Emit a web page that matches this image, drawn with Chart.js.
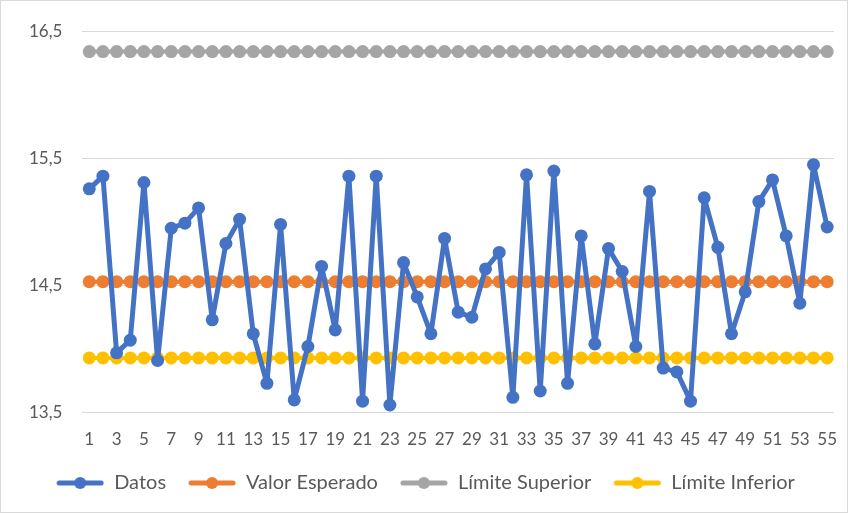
<!DOCTYPE html>
<html>
<head>
<meta charset="utf-8">
<script src="https://cdn.jsdelivr.net/npm/chart.js@4"></script>
<style>
  html, body { margin: 0; padding: 0; background: #fff; }
  #wrap { width: 846px; height: 511px; border: 1px solid #d9d9d9; }
</style>
</head>
<body>
<div id="wrap"><canvas id="chart"></canvas></div>
<script>
const categories = Array.from({ length: 55 }, (_, i) => String(i + 1));

const datos = [
  15.26, 15.36, 13.97, 14.07, 15.31, 13.91, 14.95, 14.99, 15.11, 14.23,
  14.83, 15.02, 14.12, 13.73, 14.98, 13.60, 14.02, 14.65, 14.15, 15.36,
  13.59, 15.36, 13.56, 14.68, 14.41, 14.12, 14.87, 14.29, 14.25, 14.63,
  14.76, 13.62, 15.37, 13.67, 15.40, 13.73, 14.89, 14.04, 14.79, 14.61,
  14.02, 15.24, 13.85, 13.82, 13.59, 15.19, 14.80, 14.12, 14.45, 15.16,
  15.33, 14.89, 14.36, 15.45, 14.96,
];
const valorEsperado = categories.map(() => 14.53);
const limiteSuperior = categories.map(() => 16.34);
const limiteInferior = categories.map(() => 13.93);

const yTicks = [13.5, 14.5, 15.5, 16.5];

const textColor = "#595959";
const fontFamily = "Lato, 'Open Sans', sans-serif";

// line + dot icon for legend, pushed to the right of its box
function legendIcon(color) {
  const c = document.createElement("canvas");
  c.width = 56;
  c.height = 14;
  const ctx = c.getContext("2d");
  ctx.strokeStyle = color;
  ctx.lineWidth = 5;
  ctx.lineCap = "round";
  ctx.beginPath();
  ctx.moveTo(11, 7);
  ctx.lineTo(53, 7);
  ctx.stroke();
  ctx.fillStyle = color;
  ctx.beginPath();
  ctx.arc(32, 7, 6, 0, Math.PI * 2);
  ctx.fill();
  return c;
}

function series(label, data, color, lineWidth) {
  return {
    label: label,
    data: data,
    borderColor: color,
    backgroundColor: color,
    borderWidth: lineWidth,
    borderJoinStyle: "round",
    borderCapStyle: "round",
    pointRadius: 6.5,
    pointHoverRadius: 6.5,
    pointBorderWidth: 0,
    pointBackgroundColor: color,
    pointStyle: "circle",
    tension: 0,
  };
}

const colors = ["#4472c4", "#ed7d31", "#a5a5a5", "#ffc000"];

new Chart(document.getElementById("chart"), {
  type: "line",
  data: {
    labels: categories,
    datasets: [
      series("Datos", datos, colors[0], 5),
      series("Valor Esperado", valorEsperado, colors[1], 4),
      series("Límite Superior", limiteSuperior, colors[2], 4),
      series("Límite Inferior", limiteInferior, colors[3], 4),
    ],
  },
  options: {
    responsive: true,
    maintainAspectRatio: false,
    animation: false,
    layout: { padding: { left: 8, right: 13, top: 26, bottom: 9 } },
    scales: {
      x: {
        offset: true,
        grid: { display: false },
        border: { display: false },
        ticks: {
          autoSkip: false,
          maxRotation: 0,
          color: textColor,
          font: { family: fontFamily, size: 17 },
          padding: 9,
          callback: (v, i) => (i % 2 === 0 ? categories[i] : ""),
        },
      },
      y: {
        min: yTicks[0],
        max: yTicks[yTicks.length - 1],
        afterBuildTicks: (axis) => {
          axis.ticks = yTicks.map((v) => ({ value: v }));
        },
        grid: { color: "#d9d9d9", lineWidth: 1, drawTicks: false },
        border: { display: false },
        ticks: {
          color: textColor,
          font: { family: fontFamily, size: 17 },
          padding: 20,
          callback: (v) => v.toFixed(1).replace(".", ","),
        },
      },
    },
    plugins: {
      legend: {
        position: "bottom",
        labels: {
          usePointStyle: true,
          pointStyleWidth: 56,
          color: textColor,
          font: { family: fontFamily, size: 20 },
          padding: 14,
          generateLabels: (chart) =>
            chart.data.datasets.map((ds, i) => ({
              text: ds.label,
              fillStyle: colors[i],
              strokeStyle: colors[i],
              pointStyle: legendIcon(colors[i]),
              fontColor: textColor,
              datasetIndex: i,
              hidden: false,
              lineWidth: 0,
            })),
        },
      },
      tooltip: { enabled: false },
    },
  },
});
</script>
</body>
</html>
